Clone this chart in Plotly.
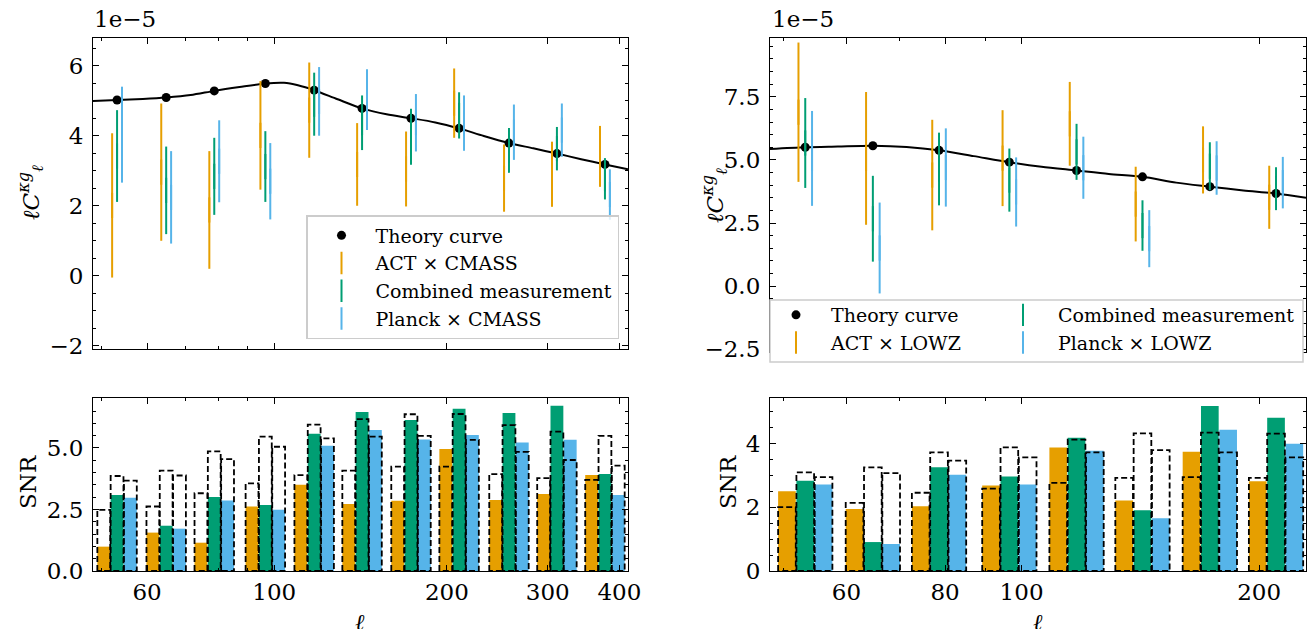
import numpy as np
import plotly.graph_objects as go

# ---------------- data (spectra in units of 1e-5) ----------------
ell_bins = [53.2, 64.8, 78.6, 96.5, 117.4, 142.3, 173.2, 210.1, 256.7, 311.2, 377.4]
ell_lowz = ell_bins[:8]

# CMASS
theory_cmass = [5.02, 5.09, 5.28, 5.49, 5.30, 4.78, 4.50, 4.21, 3.79, 3.49, 3.18]
curve_cmass_ell = [48.3, 53.2, 59, 64.8, 71.5, 78.6, 87, 96.5, 104, 110, 117.4, 129, 142.3,
                   157, 173.2, 191, 210.1, 232, 256.7, 283, 311.2, 343, 377.4, 414]
curve_cmass_val = [4.99, 5.02, 5.05, 5.09, 5.16, 5.28, 5.39, 5.49, 5.51, 5.44, 5.30, 5.04, 4.78,
                   4.61, 4.50, 4.38, 4.21, 3.99, 3.79, 3.64, 3.49, 3.33, 3.18, 3.04]
act_cmass = [2.01, 2.96, 1.88, 4.01, 4.73, 3.18, 3.05, 4.93, 2.79, 2.90, 3.41]
act_cmass_err = [2.06, 1.96, 1.68, 1.55, 1.36, 1.18, 1.07, 0.99, 0.96, 0.93, 0.87]
comb_cmass = [3.42, 2.44, 2.84, 3.12, 4.90, 4.37, 3.97, 4.58, 3.58, 3.63, 2.77]
comb_cmass_err = [1.31, 1.25, 1.10, 1.01, 0.90, 0.78, 0.80, 0.66, 0.64, 0.62, 0.59]
planck_cmass = [4.03, 2.24, 3.27, 2.70, 4.98, 5.03, 4.37, 4.36, 4.10, 4.16, 2.32]
planck_cmass_err = [1.37, 1.32, 1.17, 1.09, 0.98, 0.87, 0.82, 0.79, 0.79, 0.76, 0.72]

snr_act_cmass = [0.99, 1.56, 1.15, 2.62, 3.50, 2.72, 2.85, 4.96, 2.89, 3.13, 3.90]
snr_comb_cmass = [3.09, 1.84, 3.01, 2.68, 5.58, 6.46, 6.14, 6.59, 6.42, 6.72, 3.94]
snr_planck_cmass = [2.98, 1.72, 2.86, 2.49, 5.09, 5.73, 5.34, 5.53, 5.22, 5.33, 3.09]
exp_act_cmass = [2.48, 2.62, 3.16, 3.56, 3.90, 4.08, 4.24, 4.24, 3.94, 3.77, 3.70]
exp_comb_cmass = [3.86, 4.08, 4.86, 5.46, 5.95, 6.17, 6.37, 6.38, 5.93, 5.66, 5.49]
exp_planck_cmass = [3.67, 3.88, 4.55, 5.05, 5.39, 5.46, 5.49, 5.33, 4.84, 4.51, 4.28]

# LOWZ
theory_lowz = [5.50, 5.56, 5.38, 4.91, 4.58, 4.33, 3.94, 3.67]
curve_lowz_ell = [48.0, 53.2, 58.5, 64.8, 71.5, 78.6, 87, 96.5, 106, 117.4, 129, 142.3, 157,
                  173.2, 191, 210.1, 229.3]
curve_lowz_val = [5.43, 5.50, 5.53, 5.56, 5.51, 5.38, 5.15, 4.91, 4.73, 4.58, 4.44, 4.33, 4.10,
                  3.94, 3.79, 3.67, 3.50]
act_lowz = [6.89, 5.06, 4.40, 5.07, 6.43, 3.25, 5.00, 3.52]
act_lowz_err = [2.76, 2.63, 2.19, 1.90, 1.66, 1.48, 1.33, 1.25]
comb_lowz = [5.67, 2.67, 4.64, 4.20, 5.32, 2.40, 4.75, 3.86]
comb_lowz_err = [1.78, 1.70, 1.44, 1.25, 1.11, 1.00, 0.95, 0.85]
planck_lowz = [5.06, 1.51, 4.70, 3.73, 4.69, 1.88, 4.68, 4.10]
planck_lowz_err = [1.88, 1.80, 1.55, 1.37, 1.23, 1.13, 1.06, 1.02]

snr_act_lowz = [2.51, 1.95, 2.04, 2.69, 3.88, 2.22, 3.75, 2.82]
snr_comb_lowz = [2.84, 0.91, 3.26, 2.97, 4.19, 1.91, 5.19, 4.82]
snr_planck_lowz = [2.72, 0.85, 3.03, 2.72, 3.78, 1.66, 4.44, 4.00]
exp_act_lowz = [2.01, 2.14, 2.46, 2.59, 2.77, 2.93, 2.95, 2.93]
exp_comb_lowz = [3.10, 3.26, 3.73, 3.89, 4.13, 4.33, 4.35, 4.32]
exp_planck_lowz = [2.95, 3.08, 3.47, 3.57, 3.73, 3.80, 3.73, 3.57]

# tick labels
xticks_cmass = [60, 100, 200, 300, 400]
xminor_cmass = [50, 70, 80, 90]
xticks_lowz = [60, 80, 100, 200]
xminor_lowz = [50, 70, 90]
xlim_cmass = [48.3, 414]
xlim_lowz = [48.0, 229.3]

# ---------------- style ----------------
C_ACT = "#E69F00"
C_COMB = "#009E73"
C_PLANCK = "#56B4E9"
FONT = "DejaVu Serif"
FS = 23
LFS = 19
W, H = 1310, 629

L = np.log10
ERR_OFF = np.log10(1.02)
BAR_OFF = 0.0232
BAR_W = 0.0224


def px(x):
    return x / W


def py(y):
    return 1 - y / H


fig = go.Figure()


def add_spectrum(xa, ya, ell, theory, cell, cval, series, legend, names_rank):
    lx = L(np.array(ell))
    fig.add_trace(go.Scatter(x=L(np.array(cell)), y=cval, mode="lines",
                             line=dict(color="black", width=2, shape="spline", smoothing=0.8),
                             showlegend=False, xaxis=xa, yaxis=ya, hoverinfo="skip"))
    fig.add_trace(go.Scatter(x=lx, y=theory, mode="markers", name="Theory curve",
                             marker=dict(color="black", size=9), xaxis=xa, yaxis=ya,
                             legend=legend[0], legendgroup="th" + xa, legendrank=names_rank[0]))
    for k, (name, vals, errs, col, off) in enumerate(series):
        fig.add_trace(go.Scatter(
            x=lx + off, y=vals, mode="markers", name=name,
            marker=dict(symbol="line-ns", size=18, color=col, line=dict(width=2, color=col)),
            error_y=dict(type="data", array=errs, thickness=2, width=0, color=col),
            xaxis=xa, yaxis=ya, legend=legend[k + 1], legendgroup=name + xa,
            legendrank=names_rank[k + 1]))


def add_snr(xa, ya, ell, bars, dashed):
    lx = L(np.array(ell))
    for (vals, col, off) in bars:
        fig.add_trace(go.Bar(x=lx + off, y=vals, width=[BAR_W] * len(vals),
                             marker=dict(color=col, line=dict(width=0)),
                             showlegend=False, xaxis=xa, yaxis=ya))
    xs, ys = [], []
    for (vals, off) in dashed:
        for xc, h in zip(lx + off, vals):
            x0, x1 = xc - BAR_W / 2, xc + BAR_W / 2
            xs += [x0, x0, x1, x1, x0, None]
            ys += [0, h, h, 0, 0, None]
    fig.add_trace(go.Scatter(x=xs, y=ys, mode="lines",
                             line=dict(color="black", width=1.8, dash="6px,3px"),
                             showlegend=False, xaxis=xa, yaxis=ya, hoverinfo="skip"))


add_spectrum("x", "y", ell_bins, theory_cmass, curve_cmass_ell, curve_cmass_val,
             [("ACT × CMASS", act_cmass, act_cmass_err, C_ACT, -ERR_OFF),
              ("Combined measurement", comb_cmass, comb_cmass_err, C_COMB, 0.0),
              ("Planck × CMASS", planck_cmass, planck_cmass_err, C_PLANCK, ERR_OFF)],
             ["legend"] * 4, [1, 2, 3, 4])
add_snr("x2", "y2", ell_bins,
        [(snr_act_cmass, C_ACT, -BAR_OFF), (snr_comb_cmass, C_COMB, 0.0),
         (snr_planck_cmass, C_PLANCK, BAR_OFF)],
        [(exp_act_cmass, -BAR_OFF), (exp_comb_cmass, 0.0), (exp_planck_cmass, BAR_OFF)])
add_spectrum("x3", "y3", ell_lowz, theory_lowz, curve_lowz_ell, curve_lowz_val,
             [("ACT × LOWZ", act_lowz, act_lowz_err, C_ACT, -ERR_OFF),
              ("Combined measurement", comb_lowz, comb_lowz_err, C_COMB, 0.0),
              ("Planck × LOWZ", planck_lowz, planck_lowz_err, C_PLANCK, ERR_OFF)],
             ["legend2", "legend2", "legend3", "legend3"], [1, 2, 1, 2])
add_snr("x4", "y4", ell_lowz,
        [(snr_act_lowz, C_ACT, -BAR_OFF), (snr_comb_lowz, C_COMB, 0.0),
         (snr_planck_lowz, C_PLANCK, BAR_OFF)],
        [(exp_act_lowz, -BAR_OFF), (exp_comb_lowz, 0.0), (exp_planck_lowz, BAR_OFF)])


def xax(dom, anchor, lim, ticks, minor, labels):
    return dict(domain=dom, anchor=anchor, range=[L(lim[0]), L(lim[1])], automargin=False,
                tickmode="array", tickvals=list(L(np.array(ticks))), ticktext=[str(t) for t in ticks],
                showticklabels=labels, ticks="inside", ticklen=6, tickwidth=1.2, tickcolor="black",
                minor=dict(tickmode="array", tickvals=list(L(np.array(minor))), ticks="inside",
                           ticklen=3, tickwidth=1, tickcolor="black"),
                showline=True, linecolor="black", linewidth=1.2, mirror="allticks", showgrid=False,
                zeroline=False, tickfont=dict(family=FONT, size=FS, color="black"))


def yax(dom, anchor, rng, dtick, fmt):
    return dict(domain=dom, anchor=anchor, range=rng, tick0=0, dtick=dtick, tickformat=fmt,
                automargin=False, ticklabelstandoff=4,
                ticks="inside", ticklen=6, tickwidth=1.2, tickcolor="black",
                minor=dict(dtick=0.5, tick0=0, ticks="inside", ticklen=3, tickwidth=1, tickcolor="black"),
                showline=True, linecolor="black", linewidth=1.2, mirror="allticks", showgrid=False,
                zeroline=False, tickfont=dict(family=FONT, size=FS, color="black"))


xl = [px(93), px(628)]
xr = [px(770), px(1306)]
ytop_l = [py(349), py(38)]
ytop_r = [py(352), py(38)]
ybot = [py(571), py(398)]

fig.update_layout(
    width=W, height=H, margin=dict(l=0, r=0, t=0, b=0, autoexpand=False),
    plot_bgcolor="white", paper_bgcolor="white", barmode="overlay",
    font=dict(family=FONT, size=FS, color="black"),
    xaxis=xax(xl, "y", xlim_cmass, xticks_cmass, xminor_cmass, False),
    xaxis2=xax(xl, "y2", xlim_cmass, xticks_cmass, xminor_cmass, True),
    xaxis3=xax(xr, "y3", xlim_lowz, xticks_lowz, xminor_lowz, False),
    xaxis4=xax(xr, "y4", xlim_lowz, xticks_lowz, xminor_lowz, True),
    yaxis=yax(ytop_l, "x", [-2.09, 6.79], 2, "d"),
    yaxis2=yax(ybot, "x2", [0, 7.03], 2.5, ".1f"),
    yaxis3=yax(ytop_r, "x3", [-2.61, 9.83], 2.5, ".1f"),
    yaxis4=yax(ybot, "x4", [0, 5.44], 2, "d"),
    legend=dict(x=px(306), y=py(215), xanchor="left", yanchor="top",
                bgcolor="rgba(255,255,255,0.8)", bordercolor="#cccccc", borderwidth=1.5,
                font=dict(family=FONT, size=LFS, color="black"), itemwidth=58, tracegroupgap=0),
    legend2=dict(x=px(761), y=py(296), xanchor="left", yanchor="top", bgcolor="rgba(0,0,0,0)",
                 borderwidth=0, font=dict(family=FONT, size=LFS, color="black"), itemwidth=60,
                 tracegroupgap=0),
    legend3=dict(x=px(988), y=py(296), xanchor="left", yanchor="top", bgcolor="rgba(0,0,0,0)",
                 borderwidth=0, font=dict(family=FONT, size=LFS, color="black"), itemwidth=60,
                 tracegroupgap=0),
    shapes=[dict(type="rect", xref="paper", yref="paper", x0=px(770), x1=px(1303), y0=py(362),
                 y1=py(300), fillcolor="white", line=dict(color="#cccccc", width=1.5), layer="above")],
)

ylab = "<i>ℓC</i><sup><i>κg</i></sup><sub><i>ℓ</i></sub>"
ann = [
    dict(x=px(92), y=py(19), text="1e−5", xanchor="left", yanchor="middle"),
    dict(x=px(770), y=py(19), text="1e−5", xanchor="left", yanchor="middle"),
    dict(x=px(30), y=py(193), text=ylab, textangle=-90, xanchor="center", yanchor="middle"),
    dict(x=px(714), y=py(196), text=ylab, textangle=-90, xanchor="center", yanchor="middle"),
    dict(x=px(28), y=py(482), text="SNR", textangle=-90, xanchor="center", yanchor="middle"),
    dict(x=px(728), y=py(482), text="SNR", textangle=-90, xanchor="center", yanchor="middle"),
    dict(x=px(360), y=py(622), text="<i>ℓ</i>", xanchor="center", yanchor="middle"),
    dict(x=px(1038), y=py(622), text="<i>ℓ</i>", xanchor="center", yanchor="middle"),
]
for a in ann:
    a.update(xref="paper", yref="paper", showarrow=False, font=dict(family=FONT, size=FS, color="black"))
fig.update_layout(annotations=ann)

fig.write_html("out.html", config={"displayModeBar": False},
               post_script="document.body.style.margin='0px';document.body.style.overflow='hidden';")
